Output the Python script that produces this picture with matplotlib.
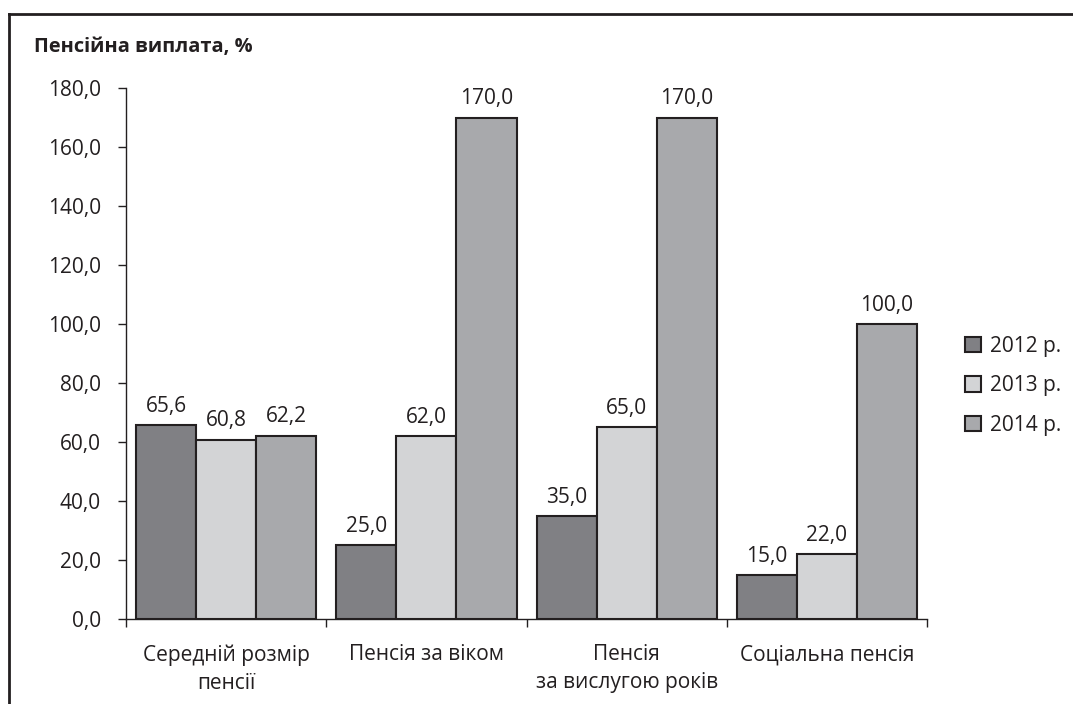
import matplotlib
matplotlib.use("Agg")
import matplotlib.pyplot as plt
from matplotlib.patches import Rectangle
from matplotlib.lines import Line2D
import numpy as np

plt.rcParams['font.family'] = ['Open Sans', 'DejaVu Sans']

categories = ["Середній розмір\nпенсії", "Пенсія за віком", "Пенсія\nза вислугою років", "Соціальна пенсія"]
series_names = ["2012 р.", "2013 р.", "2014 р."]
v2012 = [65.6, 25.0, 35.0, 15.0]
v2013 = [60.8, 62.0, 65.0, 22.0]
v2014 = [62.2, 170.0, 170.0, 100.0]
yticks = [0, 20, 40, 60, 80, 100, 120, 140, 160, 180]

colors = ["#808084", "#d3d4d6", "#a8a9ac"]
edge = "#231f20"
FS = 15

fig = plt.figure(figsize=(10.73, 7.04), dpi=100)
ax = fig.add_axes([0.1174, 0.1207, 0.864 - 0.1174, 0.875 - 0.1207])

x = np.arange(len(categories))
w = 0.3
for i, vals in enumerate([v2012, v2013, v2014]):
    pos = x + (i - 1) * w
    ax.bar(pos, vals, width=w, color=colors[i], edgecolor=edge, linewidth=1.5, label=series_names[i], zorder=3)
    for p, v in zip(pos, vals):
        ax.annotate(f"{v:.1f}".replace(".", ","), (p, v), xytext=(0, 9.5), textcoords="offset points",
                    ha="center", va="baseline", fontsize=FS, color="#231f20")

ax.set_xlim(-0.5, len(categories) - 0.5)
ax.set_ylim(0, 180)
ax.set_yticks(yticks)
ax.set_yticklabels([f"{t:.1f}".replace(".", ",") for t in yticks], fontsize=FS, color="#231f20")
ax.set_xticks(np.arange(-0.5, len(categories)), minor=False)
ax.set_xticklabels([""] * (len(categories) + 1))
ax.set_xticks(x, minor=True)
ax.set_xticklabels(categories, minor=True, fontsize=FS, color="#231f20", linespacing=1.45)
ax.tick_params(axis='x', which='minor', length=0, pad=18)
ax.tick_params(axis='x', which='major', length=6, width=1, color=edge, direction='out')
ax.tick_params(axis='y', length=6, width=1, color=edge, pad=12, direction='out')
for s in ['top', 'right']:
    ax.spines[s].set_visible(False)
for s in ['left', 'bottom']:
    ax.spines[s].set_color(edge)
    ax.spines[s].set_linewidth(1)

handles = [Rectangle((0, 0), 1, 1, facecolor=c, edgecolor=edge, linewidth=1.5) for c in colors]
leg = fig.legend(handles, series_names, loc="center left", bbox_to_anchor=(0.8915, 0.452),
                 frameon=False, fontsize=FS, handlelength=0.75, handleheight=0.75,
                 handletextpad=0.45, labelspacing=0.9, borderaxespad=0)
for t in leg.get_texts():
    t.set_color("#231f20")

fig.text(34 / 1073, 1 - 47 / 704, "Пенсійна виплата, %", fontsize=14.4, fontweight="bold",
         ha="left", va="center", color="#231f20")

# outer frame (top and left edges visible)
fig.add_artist(Line2D([8.5 / 1073, 1.0], [1 - 13.5 / 704, 1 - 13.5 / 704], transform=fig.transFigure,
                      color=edge, linewidth=2))
fig.add_artist(Line2D([8.5 / 1073, 8.5 / 1073], [0, 1 - 13.5 / 704], transform=fig.transFigure,
                      color=edge, linewidth=2))

fig.savefig("out.png", dpi=100)
